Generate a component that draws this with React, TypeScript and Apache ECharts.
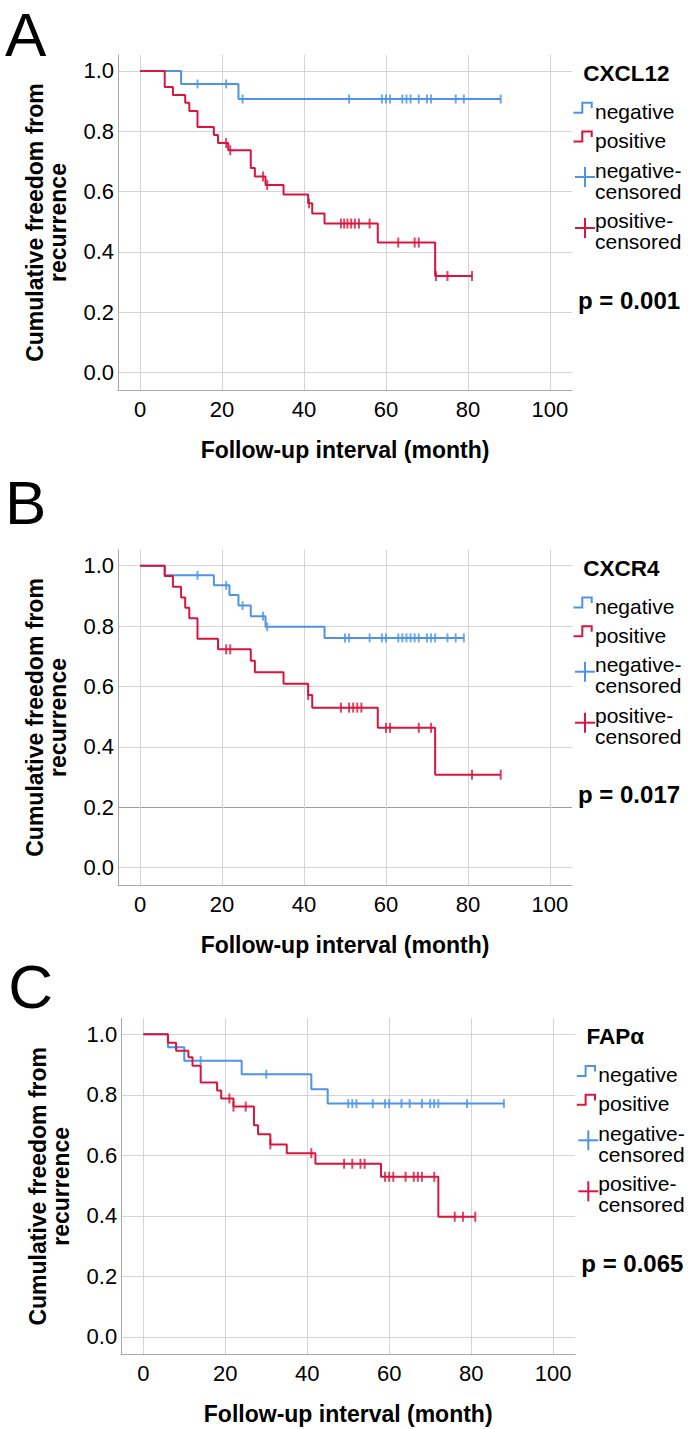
import React, { useEffect, useRef } from "react";
import * as echarts from "echarts";

// ---------------- data ----------------
// Panel A – CXCL12
const aNegTimes = [0, 10, 24];
const aNegSurv = [1, 0.957, 0.907];
const aNegCensored = [14, 21, 25, 51, 59, 60, 61, 64, 65, 66, 68, 70, 71, 77, 79, 88];
const aPosTimes = [0, 6, 8, 11, 12, 14, 18, 19, 21.5, 27, 28, 30.6, 35, 41, 42, 45, 58, 72];
const aPosSurv = [1, 0.947, 0.92, 0.895, 0.867, 0.814, 0.788, 0.761, 0.737, 0.678, 0.65, 0.622, 0.59, 0.561, 0.527, 0.494, 0.431, 0.32];
const aPosCensored = [21, 22, 30, 31, 41.2, 49, 49.8, 50.6, 51.5, 52.4, 53.4, 56, 63, 67, 68, 72.2, 75, 81];

// Panel B – CXCR4
const bNegTimes = [0, 6, 18, 21.8, 24, 27, 30.6, 45];
const bNegSurv = [1, 0.968, 0.935, 0.903, 0.868, 0.833, 0.798, 0.761];
const bNegCensored = [14, 21, 25, 30, 31, 50, 51, 56, 59, 60, 63, 64, 65, 66, 67, 68, 70, 71, 72, 75, 77, 79];
const bPosTimes = [0, 6, 8, 10, 11, 12, 14, 19, 27, 28, 35, 41, 42, 58, 72];
const bPosSurv = [1, 0.966, 0.93, 0.895, 0.861, 0.826, 0.758, 0.723, 0.685, 0.647, 0.609, 0.572, 0.53, 0.463, 0.308];
const bPosCensored = [21, 22, 41, 49, 51, 52, 53, 54, 60, 61, 68, 71, 81, 88];

// Panel C – FAPα
const cNegTimes = [0, 6, 10, 24, 41, 45];
const cNegSurv = [1, 0.957, 0.913, 0.868, 0.818, 0.771];
const cNegCensored = [14, 30, 50, 51, 52, 56, 59, 60, 63, 65, 68, 70, 71, 72, 79, 88];
const cPosTimes = [0, 6, 8, 11, 12, 14, 18, 19, 22, 27, 28, 31, 35, 42, 58, 72];
const cPosSurv = [1, 0.972, 0.946, 0.924, 0.896, 0.841, 0.814, 0.788, 0.761, 0.699, 0.67, 0.636, 0.607, 0.572, 0.529, 0.397];
const cPosCensored = [21, 22, 25, 31, 41, 49, 51, 53, 54, 59, 60, 61, 64, 66, 67, 68, 71, 76, 78, 81];

const xTicks = [0, 20, 40, 60, 80, 100];
const yTicks = [0, 0.2, 0.4, 0.6, 0.8, 1.0];
const panelLetters = ["A", "B", "C"];
const panelTitles = ["CXCL12", "CXCR4", "FAPα"];
const pValues = ["p = 0.001", "p = 0.017", "p = 0.065"];
const legendLabels = ["negative", "positive", "negative-\ncensored", "positive-\ncensored"];
const xTitle = "Follow-up interval (month)";
const yTitle = "Cumulative freedom from\nrecurrence";

// ---------------- styling ----------------
const BLUE = "#4F93E6";
const RED = "#D7153E";
const GRID = "#d4d4d4";
const AXIS = "#a9a9a9";
const FONT = '"Liberation Sans", Arial, Helvetica, sans-serif';

const panels = [
  { negT: aNegTimes, negS: aNegSurv, negC: aNegCensored, posT: aPosTimes, posS: aPosSurv, posC: aPosCensored },
  { negT: bNegTimes, negS: bNegSurv, negC: bNegCensored, posT: bPosTimes, posS: bPosSurv, posC: bPosCensored },
  { negT: cNegTimes, negS: cNegSurv, negC: cNegCensored, posT: cPosTimes, posS: cPosSurv, posC: cPosCensored },
];

const layouts = [
  { left: 118, top: 55, height: 335, y1: 71, dx: 0, letterY: 34 },
  { left: 118, top: 549.7, height: 335.5, y1: 565.7, dx: 0, letterY: 502 },
  { left: 121.2, top: 1018.3, height: 336, y1: 1034.3, dx: 3.3, letterY: 986 },
];

function stepData(times: number[], surv: number[], censored: number[]) {
  const pts = times.map((t, i) => [t, surv[i]]);
  const end = Math.max(times[times.length - 1], ...censored);
  pts.push([end, surv[surv.length - 1]]);
  return pts;
}
function survAt(times: number[], surv: number[], t: number) {
  let s = surv[0];
  for (let i = 0; i < times.length; i++) if (times[i] <= t) s = surv[i];
  return s;
}
function censorData(times: number[], surv: number[], censored: number[]) {
  return censored.map((t) => [t, survAt(times, surv, t)]);
}

function txt(text: string, x: number, y: number, size: number, weight: string, extra: any = {}) {
  return {
    type: "text",
    x,
    y,
    silent: true,
    style: {
      text,
      fill: "#000",
      fontSize: size,
      fontWeight: weight,
      fontFamily: FONT,
      align: "left",
      verticalAlign: "middle",
      textAlign: "left",
      textVerticalAlign: "middle",
      ...extra,
    },
  };
}

function panelGraphics(p: number) {
  const L = layouts[p];
  const y1 = L.y1;
  const dx = L.dx;
  const els: any[] = [];
  els.push(txt(panelLetters[p], 5 + dx, L.letterY, 62, "normal", { lineHeight: 50 }));
  els.push(txt(panelTitles[p], 583.3 + dx, y1 + 2.3, 22.5, "bold"));
  const icon = (off: number, color: string) => ({
    type: "polyline",
    silent: true,
    shape: {
      points: [
        [573.5 + dx, y1 + 41.7 + off],
        [582.3 + dx, y1 + 41.7 + off],
        [582.3 + dx, y1 + 31.7 + off],
        [591.7 + dx, y1 + 31.7 + off],
        [591.7 + dx, y1 + 37.3 + off],
      ],
    },
    style: { stroke: color, lineWidth: 2, fill: null },
  });
  els.push(icon(0, BLUE));
  els.push(txt(legendLabels[0], 595 + dx, y1 + 40.5, 21, "normal"));
  els.push(icon(28.8, RED));
  els.push(txt(legendLabels[1], 595 + dx, y1 + 69.3, 21, "normal"));
  const plus = (cy: number, color: string) => [
    { type: "line", silent: true, shape: { x1: 575 + dx, y1: cy, x2: 595 + dx, y2: cy }, style: { stroke: color, lineWidth: 2 } },
    { type: "line", silent: true, shape: { x1: 585 + dx, y1: cy - 10, x2: 585 + dx, y2: cy + 10 }, style: { stroke: color, lineWidth: 2 } },
  ];
  els.push(...plus(y1 + 106, BLUE));
  els.push(txt(legendLabels[2], 595 + dx, y1 + 109.5, 21, "normal", { lineHeight: 21 }));
  els.push(...plus(y1 + 157, RED));
  els.push(txt(legendLabels[3], 595 + dx, y1 + 160, 21, "normal", { lineHeight: 21 }));
  els.push(txt(pValues[p], 578 + dx, y1 + 229, 24, "bold"));
  return els;
}

function buildOption() {
  const grid = layouts.map((l) => ({
    left: l.left,
    top: l.top,
    width: 454,
    height: l.height,
    containLabel: false,
    outerBoundsMode: "none",
  }));
  const xAxis = layouts.map((_, i) => ({
    type: "value",
    gridIndex: i,
    min: -5.4,
    max: 105.4,
    axisLine: { show: true, onZero: false, lineStyle: { color: AXIS, width: 1 } },
    axisTick: { show: false, customValues: xTicks },
    axisLabel: { customValues: xTicks, fontSize: 22, color: "#000", fontFamily: FONT, margin: 8 },
    splitLine: { show: true, lineStyle: { color: GRID, width: 1 } },
    name: xTitle,
    nameLocation: "middle",
    nameGap: 48,
    nameTextStyle: { fontSize: 23, fontWeight: "bold", color: "#000", fontFamily: FONT },
  }));
  const yAxis = layouts.map((_, i) => ({
    type: "value",
    gridIndex: i,
    min: -0.058,
    max: 1.053,
    axisLine: { show: true, onZero: false, lineStyle: { color: AXIS, width: 1 } },
    axisTick: { show: false, customValues: yTicks },
    axisLabel: {
      customValues: yTicks,
      formatter: (v: number) => v.toFixed(1),
      fontSize: 22,
      color: "#000",
      fontFamily: FONT,
      margin: 4,
    },
    splitLine: {
      show: true,
      lineStyle: { color: i === 1 ? [GRID, "#9c9c9c", GRID, GRID, GRID, GRID] : GRID, width: 1 },
    },
    name: yTitle,
    nameLocation: "middle",
    nameRotate: 90,
    nameGap: 49,
    nameTextStyle: { fontSize: 23, fontWeight: "bold", color: "#000", fontFamily: FONT, lineHeight: 23 },
  }));

  const series: any[] = [];
  panels.forEach((pd, i) => {
    series.push({
      type: "line",
      name: `neg${i}`,
      xAxisIndex: i,
      yAxisIndex: i,
      step: "end",
      data: stepData(pd.negT, pd.negS, pd.negC),
      showSymbol: false,
      symbol: "none",
      silent: true,
      lineStyle: { color: BLUE, width: 2 },
      itemStyle: { color: BLUE },
      z: 2,
    });
    series.push({
      type: "line",
      name: `pos${i}`,
      xAxisIndex: i,
      yAxisIndex: i,
      step: "end",
      data: stepData(pd.posT, pd.posS, pd.posC),
      showSymbol: false,
      symbol: "none",
      silent: true,
      lineStyle: { color: RED, width: 2 },
      itemStyle: { color: RED },
      z: 3,
    });
    series.push({
      type: "scatter",
      name: `negC${i}`,
      xAxisIndex: i,
      yAxisIndex: i,
      data: censorData(pd.negT, pd.negS, pd.negC),
      symbol: "rect",
      symbolSize: [2, 9],
      silent: true,
      itemStyle: { color: BLUE },
      z: 4,
    });
    series.push({
      type: "scatter",
      name: `posC${i}`,
      xAxisIndex: i,
      yAxisIndex: i,
      data: censorData(pd.posT, pd.posS, pd.posC),
      symbol: "rect",
      symbolSize: [2, 10],
      silent: true,
      itemStyle: { color: RED },
      z: 5,
    });
  });

  const graphic = [0, 1, 2].flatMap((p) => panelGraphics(p));

  return {
    animation: false,
    backgroundColor: "#ffffff",
    grid,
    xAxis,
    yAxis,
    series,
    graphic,
  };
}

export default function App() {
  const ref = useRef<HTMLDivElement>(null);
  useEffect(() => {
    if (!ref.current) return;
    const chart = echarts.init(ref.current, undefined, { renderer: "svg" });
    chart.setOption(buildOption() as any);
    return () => {
      chart.dispose();
    };
  }, []);
  return (
    <div
      ref={ref}
      style={{ position: "absolute", left: 0, top: 0, width: 688, height: 1429, background: "#fff" }}
    />
  );
}
